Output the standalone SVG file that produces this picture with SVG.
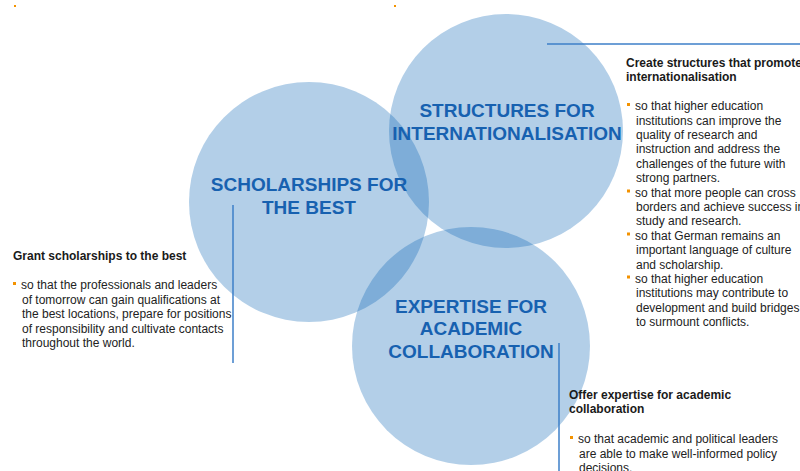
<svg xmlns="http://www.w3.org/2000/svg" width="800" height="471" viewBox="0 0 800 471">
<style>
.circ{fill:#025fb2;fill-opacity:0.3}
.title{font-family:"Liberation Sans",Arial,sans-serif;font-weight:bold;font-size:19px;fill:#1761b0;text-anchor:middle}
.head{font-family:"Liberation Sans",Arial,sans-serif;font-weight:bold;font-size:12px;fill:#1a1a1a}
.body{font-family:"Liberation Sans",Arial,sans-serif;font-size:12px;fill:#222}
.bul{fill:#f39200}
.ln{stroke:#3d7fc8;stroke-width:1.5;fill:none}
</style>
<rect width="800" height="471" fill="#fff"/>
<rect class="bul" x="14" y="5" width="2" height="2"/>
<rect class="bul" x="394" y="5" width="2" height="2"/>
<g id="node-scholarships">
<circle class="circ" cx="309" cy="202" r="120"/>
</g>
<g id="node-structures">
<circle class="circ" cx="506" cy="131" r="117"/>
</g>
<g id="node-expertise">
<circle class="circ" cx="471" cy="346" r="119"/>
</g>
<g id="titles">
<text class="title" x="309" y="191">SCHOLARSHIPS FOR</text>
<text class="title" x="309" y="214">THE BEST</text>
<text class="title" x="507" y="117">STRUCTURES FOR</text>
<text class="title" x="507" y="140">INTERNATIONALISATION</text>
<text class="title" x="471" y="313">EXPERTISE FOR</text>
<text class="title" x="471" y="335">ACADEMIC</text>
<text class="title" x="471" y="358">COLLABORATION</text>
</g>
<g id="connectors">
<line class="ln" x1="233" y1="205" x2="233" y2="363"/>
<line class="ln" x1="547" y1="44" x2="800" y2="44"/>
<line class="ln" x1="559" y1="343" x2="559" y2="471"/>
</g>
<g id="text-left">
<text class="head" x="13" y="260">Grant scholarships to the best</text>
<rect class="bul" x="13" y="282" width="3" height="3"/>
<text class="body" x="21" y="289">so that the professionals and leaders</text>
<text class="body" x="22" y="303.5">of tomorrow can gain qualifications at</text>
<text class="body" x="22" y="318">the best locations, prepare for positions</text>
<text class="body" x="22" y="332.5">of responsibility and cultivate contacts</text>
<text class="body" x="22" y="347">throughout the world.</text>
</g>
<g id="text-right">
<text class="head" x="626" y="67">Create structures that promote</text>
<text class="head" x="626" y="81">internationalisation</text>
<rect class="bul" x="627" y="103" width="3" height="3"/>
<text class="body" x="635" y="110">so that higher education</text>
<text class="body" x="636" y="124.5">institutions can improve the</text>
<text class="body" x="636" y="139">quality of research and</text>
<text class="body" x="636" y="153">instruction and address the</text>
<text class="body" x="636" y="167.5">challenges of the future with</text>
<text class="body" x="636" y="182">strong partners.</text>
<rect class="bul" x="627" y="189.5" width="3" height="3"/>
<text class="body" x="635" y="196.5">so that more people can cross</text>
<text class="body" x="636" y="211">borders and achieve success in</text>
<text class="body" x="636" y="225">study and research.</text>
<rect class="bul" x="627" y="232.5" width="3" height="3"/>
<text class="body" x="635" y="239.5">so that German remains an</text>
<text class="body" x="636" y="254">important language of culture</text>
<text class="body" x="636" y="268.5">and scholarship.</text>
<rect class="bul" x="627" y="275.5" width="3" height="3"/>
<text class="body" x="635" y="282.5">so that higher education</text>
<text class="body" x="636" y="297">institutions may contribute to</text>
<text class="body" x="636" y="311.5">development and build bridges</text>
<text class="body" x="636" y="326">to surmount conflicts.</text>
</g>
<g id="text-bottom">
<text class="head" x="569" y="399">Offer expertise for academic</text>
<text class="head" x="569" y="413">collaboration</text>
<rect class="bul" x="570" y="436" width="3" height="3"/>
<text class="body" x="578" y="443">so that academic and political leaders</text>
<text class="body" x="579" y="457.5">are able to make well-informed policy</text>
<text class="body" x="579" y="472">decisions.</text>
</g>
</svg>
